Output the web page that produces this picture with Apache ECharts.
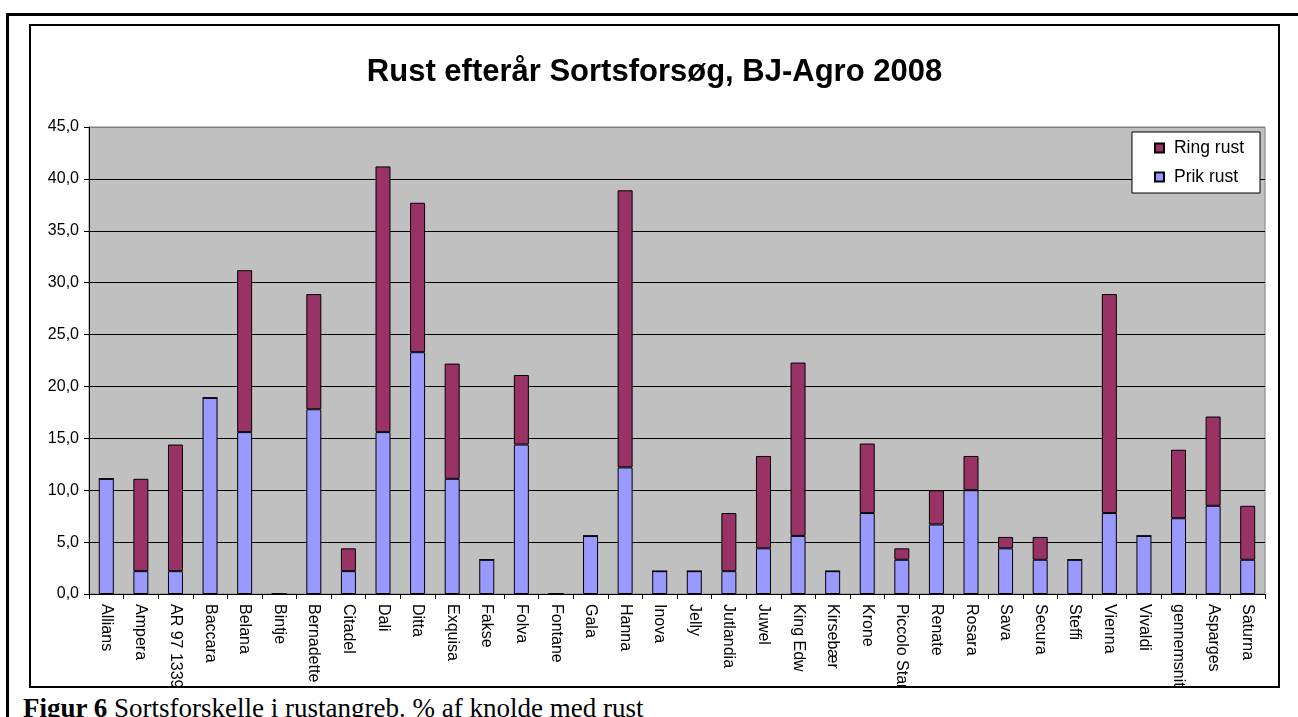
<!DOCTYPE html>
<html>
<head>
<meta charset="utf-8">
<script src="https://cdn.jsdelivr.net/npm/echarts@6/dist/echarts.min.js"></script>
<style>
  html, body { margin: 0; padding: 0; background: #fff; }
  body { width: 1298px; height: 717px; position: relative; overflow: hidden; }
  .frame { position: absolute; left: 6px; top: 13px; width: 2000px; height: 2000px; border: 3px solid #000; }
  .chart-box { position: absolute; left: 29px; top: 24px; width: 1247px; height: 660px; border: 2px solid #000; background: #fff; }
  #chart { width: 100%; height: 100%; }
  .caption { position: absolute; left: 23px; top: 695px; font-family: 'Liberation Serif', 'Times New Roman', serif; font-size: 27px; line-height: 27px; color: #000; white-space: nowrap; }
</style>
</head>
<body>
<div class="frame"></div>
<div class="chart-box"><div id="chart"></div></div>
<div class="caption"><b>Figur 6</b> Sortsforskelle i rustangreb. % af knolde med rust</div>
<script>
const titleText = 'Rust efterår Sortsforsøg, BJ-Agro 2008';

const varieties = [
  'Allians', 'Ampera', 'AR 97 1339', 'Baccara', 'Belana', 'Bintje', 'Bernadette',
  'Citadel', 'Dali', 'Ditta', 'Exquisa', 'Fakse', 'Folva', 'Fontane', 'Gala',
  'Hanna', 'Inova', 'Jelly', 'Jutlandia', 'Juwel', 'King Edw', 'Kirsebær', 'Krone',
  'Piccolo Star', 'Renate', 'Rosara', 'Sava', 'Secura', 'Steffi', 'Vienna',
  'Vivaldi', 'gennemsnit', 'Asparges', 'Saturna'
];

// % knolde med prik rust (bottom of stack)
const prikRust = [
  11.1, 2.2, 2.2, 18.9, 15.6, 0, 17.8,
  2.2, 15.6, 23.3, 11.1, 3.3, 14.4, 0, 5.6,
  12.2, 2.2, 2.2, 2.2, 4.4, 5.6, 2.2, 7.8,
  3.3, 6.7, 10.0, 4.4, 3.3, 3.3, 7.8,
  5.6, 7.3, 8.5, 3.3
];

// % knolde med ring rust (stacked on top)
const ringRust = [
  0, 8.9, 12.2, 0, 15.6, 0, 11.1,
  2.2, 25.6, 14.4, 11.1, 0, 6.7, 0, 0,
  26.7, 0, 0, 5.6, 8.9, 16.7, 0, 6.7,
  1.1, 3.3, 3.3, 1.1, 2.2, 0, 21.1,
  0, 6.6, 8.6, 5.2
];

const legendNames = ['Ring rust', 'Prik rust'];

const chart = echarts.init(document.getElementById('chart'));

// gridlines black, the top one (45,0) grey like the plot border
const gridColors = ['#000', '#000', '#000', '#000', '#000', '#000', '#000', '#000', '#000', '#808080'];

const option = {
  animation: false,
  backgroundColor: '#fff',
  textStyle: { fontFamily: 'Liberation Sans, Arial, sans-serif' },
  title: {
    text: titleText,
    left: 'center',
    top: 26,
    textStyle: { fontSize: 31, fontWeight: 'bold', color: '#000' }
  },
  legend: {
    data: legendNames,
    orient: 'vertical',
    right: 18,
    top: 106,
    backgroundColor: '#fff',
    borderColor: '#000',
    borderWidth: 1,
    padding: [7, 16, 7, 22],
    itemGap: 11,
    itemWidth: 9,
    itemHeight: 9,
    icon: 'rect',
    textStyle: { fontSize: 17.5, color: '#000', padding: [0, 0, 0, 5] }
  },
  grid: {
    left: 58,
    right: 13,
    top: 101,
    bottom: 92,
    outerBoundsMode: 'none',
    show: true,
    backgroundColor: '#C0C0C0',
    borderColor: '#808080',
    borderWidth: 1
  },
  xAxis: {
    type: 'category',
    data: varieties,
    axisLine: { lineStyle: { color: '#000', width: 1 } },
    axisTick: { show: true, length: 5, lineStyle: { color: '#000' } },
    axisLabel: {
      rotate: -90,
      interval: 0,
      margin: 10,
      fontSize: 16,
      color: '#000'
    }
  },
  yAxis: {
    type: 'value',
    min: 0,
    max: 45,
    interval: 5,
    axisLine: { show: true, lineStyle: { color: '#000', width: 1 } },
    axisTick: { show: true, length: 5, lineStyle: { color: '#000' } },
    axisLabel: {
      fontSize: 16,
      color: '#000',
      margin: 10,
      formatter: v => v.toFixed(1).replace('.', ',')
    },
    splitLine: { show: true, lineStyle: { color: gridColors, width: 1 } }
  },
  series: [
    {
      name: 'Prik rust',
      type: 'bar',
      stack: 'rust',
      barWidth: 15,
      data: prikRust,
      itemStyle: { color: '#9999FF', borderColor: '#000', borderWidth: 1 }
    },
    {
      name: 'Ring rust',
      type: 'bar',
      stack: 'rust',
      barWidth: 15,
      data: ringRust,
      itemStyle: { color: '#993366', borderColor: '#000', borderWidth: 1 }
    }
  ]
};

chart.setOption(option);
window.addEventListener('resize', () => chart.resize());
</script>
</body>
</html>
